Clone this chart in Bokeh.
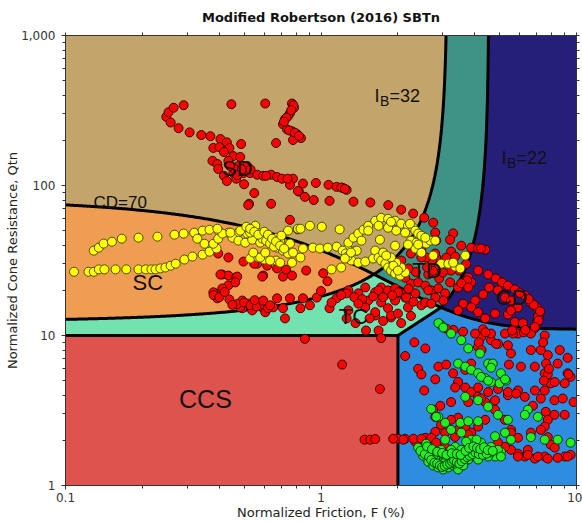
import numpy as np
from bokeh.plotting import figure
from bokeh.models import Range1d, LogAxis, FixedTicker, NumeralTickFormatter
from bokeh.embed import file_html
from bokeh.resources import INLINE
from bokeh.core.properties import value

# ---------------------------------------------------------------------------
# Chart limits and zone-boundary parameters (Robertson 2016 SBTn chart)
# ---------------------------------------------------------------------------
F_MIN, F_MAX = 0.1, 10.0          # normalized friction ratio, %
Q_MIN, Q_MAX = 1.0, 1000.0        # normalized cone resistance Qtn
CD_LEVEL = 70                     # CD = 70 contour
IB_LEVELS = [32, 22]              # IB = 32 and IB = 22 contours
CCS_F = 2.0                       # CCS / CC split
CCS_Q = 10.0                      # CCS / TC split

X_MAJOR = [0.1, 1, 10]
Y_MAJOR = [1, 10, 100, 1000]

# ---------------------------------------------------------------------------
# CPT data (F %, Qtn)
# ---------------------------------------------------------------------------
red_upper = [
    (0.248, 287), (0.253, 308), (0.265, 330), (0.290, 343), (0.258, 263), (0.277, 241),
    (0.306, 226), (0.340, 217), (0.369, 213), (0.404, 204), (0.428, 194), (0.379, 178),
    (0.400, 180), (0.438, 178), (0.417, 167), (0.487, 189), (0.446, 348), (0.605, 352),
    (0.667, 192), (0.770, 352), (0.784, 330), (0.756, 303), (0.743, 290), (0.723, 277),
    (0.710, 256), (0.736, 237), (0.770, 230), (0.805, 220), (0.835, 207), (0.777, 201),
    (0.780, 342), (0.765, 318), (0.733, 283), (0.716, 266), (0.750, 233), (0.790, 225),
    (0.820, 214), (0.376, 146), (0.393, 139), (0.454, 157), (0.483, 155), (0.514, 135),
    (0.497, 121), (0.454, 121), (0.417, 116), (0.528, 121), (0.563, 118), (0.594, 116),
    (0.638, 118), (0.673, 114), (0.704, 111), (0.777, 111), (0.850, 103), (0.955, 104),
    (1.07, 101), (1.15, 98), (1.215, 96.5), (1.26, 93.5), (0.500, 102), (0.548, 89),
    (0.756, 101), (0.820, 91), (0.865, 84), (0.937, 80), (1.08, 79), (1.34, 78),
    (1.56, 77), (0.523, 75.5), (0.638, 75.5), (0.434, 146), (0.475, 135), (0.396, 129),
    (0.466, 111), (0.428, 107), (0.519, 74), (1.833, 74), (2.06, 69), (2.295, 65),
    (0.756, 59), (0.812, 51), (0.812, 92), (0.46, 128), (0.49, 128), (0.44, 135),
    (0.53, 128), (0.47, 117), (0.61, 116), (0.74, 111), (1.20, 97), (1.24, 95),
]

red_middle = [
    (2.535, 61), (2.75, 56.5), (2.80, 48.5), (2.825, 43), (3.29, 48), (3.20, 43.5),
    (3.54, 39.7), (3.87, 38.5), (4.12, 38), (4.39, 37.4), (4.23, 38), (3.23, 36.3),
    (2.825, 33), (2.725, 31.6), (3.09, 33), (3.35, 33.6), (3.70, 30), (3.47, 27.1),
    (3.77, 24.4), (3.87, 22.6), (2.25, 22.2), (2.40, 22.6), (2.56, 21.5), (2.70, 20),
    (2.88, 20.6), (3.06, 19.1), (3.20, 22.6), (3.44, 20.9), (3.01, 17.1), (2.80, 17.9),
    (3.23, 27.1), (2.135, 24.3), (1.97, 28.4), (2.06, 31.6), (2.25, 35.2), (2.47, 36.8),
    (2.58, 33.1), (2.80, 35.2), (2.47, 33.1), (2.63, 25.5), (2.90, 24), (3.00, 26.3),
    (2.75, 27), (2.60, 28.5), (2.35, 26.5), (2.20, 28), (2.90, 29.5),
    (4.12, 27.1), (4.51, 25.5), (4.84, 24), (5.11, 22.6), (5.39, 21.5), (5.74, 20.3),
    (6.28, 18.5), (6.63, 16.6), (6.99, 15.4), (7.12, 13.6), (6.99, 12.1), (6.87, 11.2),
    (4.55, 20.9), (4.31, 18.8), (4.01, 17.1), (3.87, 15.4), (3.60, 16.3), (3.44, 14.7),
    (4.12, 14.3), (4.39, 13), (4.80, 14), (5.39, 13.8), (5.74, 12.3), (6.17, 12.1),
    (5.25, 17.9), (4.93, 20), (5.54, 17.1), (5.90, 15.4), (7.06, 13.3), (5.54, 14.7),
    (3.73, 23.3), (3.54, 22.3), (3.77, 20.9), (7.2, 14.5), (7.1, 12.6), (6.8, 16),
    (6.5, 17.5), (6.0, 19.2),
    (0.396, 35.2), (0.434, 33.1), (0.497, 31.1), (0.563, 30.1), (0.594, 25.1), (0.411, 25.5),
    (0.434, 25.1), (0.466, 24.4), (0.434, 21.6), (0.411, 20.6), (0.386, 19.1), (0.393, 17.7),
    (0.438, 17.4), (0.492, 17.1), (0.563, 16.6), (0.492, 15.2), (0.538, 14.7), (0.589, 15.4),
    (0.605, 14.3), (0.379, 19.4), (0.483, 15.4), (0.519, 16.3), (0.65, 15.4), (0.673, 17.7),
    (0.723, 13), (0.756, 17.7), (0.77, 25.1), (0.71, 24.7), (0.589, 24.7), (0.47, 24.7),
    (0.404, 25.5), (0.462, 22.6), (0.673, 28), (0.616, 29.2), (0.73, 27.5), (0.875, 27.1),
    (1.02, 26), (1.06, 23), (0.548, 30.1), (0.47, 16.2), (0.50, 16.6), (0.53, 15.9),
    (0.56, 15.6), (0.60, 16), (0.62, 15.2), (0.45, 16), (0.55, 17.2), (0.38, 18.6),
    (0.40, 18), (0.42, 19.5),
    (1.15, 17.7), (1.28, 20), (1.40, 19.1), (1.49, 20.9), (1.63, 19.4), (1.72, 20.9),
    (1.83, 20), (1.95, 20.6), (2.06, 19.1), (1.53, 17.1), (1.72, 16.6), (1.95, 17.1),
    (2.135, 17.9), (2.34, 19.1), (2.63, 20), (0.963, 17.9), (0.85, 17.7), (0.594, 17.1),
    (0.632, 15.9), (0.71, 15.2), (0.831, 15.2), (0.905, 15.9), (1.08, 15.2), (1.28, 14.7),
    (1.49, 15.4), (1.83, 15.2), (2.19, 15.4), (2.47, 15.9), (1.63, 13.6), (1.88, 13.2),
    (1.10, 16.6), (1.26, 19.1), (1.68, 20), (2.0, 19.4), (2.155, 17.9), (2.56, 16.6),
    (2.70, 16.3), (1.63, 14.3), (1.88, 13.6), (2.06, 12.1), (1.68, 10.8), (1.50, 10.8),
    (1.365, 12.1), (1.26, 13), (1.35, 18), (1.45, 17.5), (1.6, 18.2), (1.75, 18),
    (1.9, 18.5), (2.2, 20.5), (2.3, 16.8), (1.2, 18.6), (1.0, 19.8), (1.4, 16.3),
    (1.55, 13), (1.75, 12.5), (2.0, 14), (2.25, 13.5),
]

red_lower = [
    (0.865, 9.5), (1.72, 9.6), (1.21, 6.4), (1.70, 4.4), (1.48, 2.02), (1.56, 2.02),
    (1.63, 2.04), (2.32, 9.0), (2.56, 8.2), (2.135, 7.3), (2.40, 6.0), (2.47, 5.5),
    (2.535, 4.3), (2.80, 5.1), (2.88, 6.2), (3.09, 6.4), (3.29, 5.6), (3.44, 4.9),
    (3.67, 4.5), (3.87, 4.2), (4.12, 3.9), (4.39, 3.6), (4.80, 3.2), (5.25, 2.74),
    (5.54, 2.35), (3.23, 3.6), (2.93, 3.4), (2.80, 2.87), (3.44, 2.83), (3.77, 3.6),
    (4.23, 3.8), (4.80, 3.7), (5.39, 4.0), (5.90, 4.3), (6.28, 3.9), (6.75, 3.4),
    (7.25, 3.8), (8.2, 3.7), (8.99, 2.96), (8.2, 2.96), (7.58, 3.1), (7.72, 2.74),
    (7.51, 2.47), (7.72, 2.1), (7.93, 1.87), (8.22, 1.79), (8.99, 1.56), (9.48, 1.6),
    (7.51, 1.56), (6.87, 1.51), (6.28, 1.56), (5.90, 1.63), (5.54, 1.73), (5.25, 1.81),
    (4.93, 1.93), (6.45, 1.73), (5.90, 2.08), (5.54, 2.25), (6.63, 2.25), (7.25, 2.35),
    (3.87, 2.25), (4.12, 2.47), (4.39, 2.74), (3.67, 2.47), (3.35, 2.11), (3.06, 2.25),
    (2.80, 2.28), (2.56, 2.08), (2.34, 1.96), (2.135, 2.05), (2.005, 2.05), (1.917, 2.05),
    (2.10, 2.02), (2.30, 2.05), (2.47, 2.05), (2.70, 2.08), (2.825, 1.93), (3.06, 1.81),
    (6.06, 6.2), (6.87, 6.2), (7.72, 7.4), (8.44, 6.5), (9.23, 5.6), (7.51, 5.6),
    (7.93, 4.8), (7.51, 4.3), (8.22, 4.9), (8.99, 4.8), (7.25, 8.0), (8.6, 8.0),
    (6.63, 8.0), (5.54, 7.6), (5.39, 8.6), (4.93, 8.8), (4.63, 9.3), (4.23, 9.75),
    (4.12, 8.4), (4.01, 10.3), (4.63, 10.3), (5.25, 10.3), (5.90, 10.3), (6.63, 10.3),
    (7.51, 10.0), (6.87, 11.4), (9.48, 5.3), (9.74, 3.6), (5.90, 1.56), (6.45, 1.6),
    (7.06, 1.56), (7.72, 1.51), (8.44, 1.53), (9.23, 1.56), (4.84, 8.8), (5.64, 10.3),
    (5.44, 6.4), (3.87, 6.5), (3.67, 5.9), (4.12, 4.5), (4.51, 4.2), (4.93, 4.4),
    (5.39, 4.2), (5.80, 4.1), (6.87, 4.3), (8.83, 3.8), (9.3, 5.5), (7.72, 5.5),
    (9.23, 7.1), (6.22, 10.5), (3.35, 4.5), (3.77, 2.18), (4.23, 1.87), (3.44, 2.35),
    (3.23, 2.74), (2.95, 2.54), (2.75, 3.2), (4.3, 11.0), (4.15, 9.0), (4.25, 8.0),
    (7.4, 9.0), (7.6, 6.5), (7.8, 6.0), (7.45, 5.0), (3.6, 10.6), (3.3, 10.9),
    (3.1, 11.1), (4.4, 10.5), (5.6, 10.8), (6.3, 10.9),
]

yellow = [
    (0.108, 26.6), (0.123, 26.6), (0.129, 26.6), (0.135, 27.6), (0.142, 27.6), (0.157, 27.6),
    (0.173, 27.6), (0.193, 27.6), (0.206, 27.6), (0.217, 27.6), (0.225, 27.6), (0.235, 28),
    (0.246, 28.4), (0.258, 29.2), (0.270, 30.1), (0.292, 32.1), (0.314, 33.6), (0.344, 34.6),
    (0.366, 36.2), (0.390, 38), (0.129, 36.8), (0.135, 38.5), (0.141, 41), (0.152, 42.2),
    (0.166, 44.2), (0.193, 44.9), (0.229, 45.6), (0.267, 47), (0.290, 47.8), (0.319, 48.5),
    (0.344, 50), (0.366, 50.7), (0.400, 49.2), (0.434, 48.5), (0.475, 48.5), (0.514, 47.8),
    (0.563, 48.5), (0.328, 44.2), (0.350, 40.9), (0.379, 40.9), (0.396, 44.2), (0.411, 47.8),
    (0.450, 44.9), (0.475, 42.9), (0.505, 41.6), (0.538, 43.5), (0.578, 41.6), (0.528, 32.6),
    (0.568, 33.1), (0.599, 32.1), (0.393, 51.5), (0.442, 48.5), (0.483, 50), (0.528, 48.5),
    (0.578, 46.3), (0.632, 44.2), (0.692, 42.9), (0.756, 41), (0.667, 31.6), (0.743, 50),
    (0.812, 51.5), (0.553, 53.9), (0.589, 44.2), (0.673, 38.5), (0.71, 36.8), (0.743, 35.2),
    (0.777, 35.7), (0.831, 33.1), (0.770, 30.6), (0.692, 30.6), (0.632, 31.6), (0.578, 33.1),
    (0.543, 35.7), (0.605, 35.7), (0.673, 44.9), (0.831, 51.5), (0.905, 53.9), (1.007, 53.1),
    (1.183, 51), (0.85, 38), (0.929, 38.5), (0.99, 38), (1.063, 38.5), (1.152, 39.1),
    (1.10, 27.6), (1.20, 28.4), (0.51, 53.1), (0.528, 51.5), (0.548, 49.2), (0.568, 47),
    (0.61, 42.9), (0.632, 41), (0.655, 39.1), (0.60, 49.2), (0.62, 47), (0.644, 44.2),
    (0.667, 42.3), (0.692, 39.7), (0.717, 38), (0.70, 46.3),
    (1.27, 38), (1.28, 41.6), (1.34, 44.9), (1.40, 47.8), (1.466, 50.7), (1.53, 53.9),
    (1.63, 58.2), (1.72, 60.9), (1.83, 60), (1.95, 58.2), (2.06, 55.6), (2.19, 53.9),
    (2.295, 52.3), (2.135, 48.5), (1.97, 50), (1.83, 52.3), (1.68, 53.9), (1.53, 50),
    (1.44, 42.9), (1.365, 36.8), (1.28, 33.1), (1.317, 31.6), (1.40, 30.6), (1.49, 31.1),
    (1.60, 32.6), (1.70, 43.5), (1.95, 39.7), (1.38, 36.8), (1.63, 36.8), (1.68, 33.1),
    (1.72, 31.6), (1.785, 30.1), (1.83, 28.4), (1.88, 27.1), (1.95, 25.9), (2.04, 25.1),
    (2.135, 26.3), (2.06, 28.4), (1.97, 30.6), (1.88, 33.1), (1.75, 35.7), (1.80, 34.1),
    (1.92, 29.2), (2.0, 27.1), (1.215, 36.8), (1.25, 35.2), (1.27, 33.6), (1.31, 35.7),
    (1.24, 32.6), (2.25, 42.9), (2.36, 41.6), (2.47, 41.6), (2.58, 41), (2.68, 42.9),
    (2.34, 38), (2.47, 35.7), (2.19, 40.4), (2.75, 34.1), (1.88, 57.3), (2.23, 55.6),
    (2.34, 50), (2.40, 47.8), (2.47, 46.3), (2.56, 44.9), (2.40, 40.4), (2.80, 42.9),
    (2.955, 30.1), (3.15, 30.1), (3.35, 28.8), (3.51, 28), (3.29, 30.6), (3.67, 34.1),
]

green = [
    (2.955, 11.7), (3.23, 10.3), (3.54, 9.3), (3.77, 8.2), (4.19, 7.6), (3.44, 6.5),
    (3.67, 6.2), (3.87, 5.9), (4.12, 5.6), (4.39, 5.2), (4.63, 4.9), (5.0, 4.8),
    (5.30, 5.0), (4.51, 6.5), (5.06, 5.6), (3.67, 3.9), (4.12, 3.7), (4.51, 3.35),
    (4.93, 2.96), (5.39, 2.74), (6.45, 3.2), (7.06, 2.87), (2.70, 3.24), (2.88, 2.87),
    (3.06, 2.62), (3.23, 2.35), (3.54, 2.25), (3.87, 2.02), (4.23, 1.93), (4.63, 1.81),
    (5.06, 1.68), (3.06, 2.02), (3.35, 1.81), (3.67, 1.66), (4.01, 1.56), (4.39, 1.66),
    (4.80, 1.56), (6.63, 2.1), (9.48, 1.93), (2.825, 2.87), (3.51, 2.62), (3.77, 2.68),
    (4.12, 2.68), (3.70, 1.96), (4.06, 2.02), (4.80, 2.13), (5.25, 2.25), (5.54, 2.02),
    (4.93, 1.73), (4.51, 1.56), (4.12, 1.49), (3.77, 1.49), (3.44, 1.49), (3.15, 1.44),
    (2.88, 1.53), (2.70, 1.66), (2.56, 1.73), (2.95, 1.73), (3.23, 1.73), (3.54, 1.73),
    (3.87, 1.66), (4.23, 1.68), (4.63, 1.66), (5.06, 1.56), (7.51, 2.02), (8.44, 2.02),
    (6.28, 2.96), (2.63, 1.44), (2.75, 1.36), (2.88, 1.32), (3.01, 1.28), (3.15, 1.32),
    (3.29, 1.36), (3.44, 1.28), (3.60, 1.36), (2.80, 1.49), (3.06, 1.44), (3.35, 1.40),
    (2.51, 1.58), (2.63, 1.68), (2.75, 1.58), (3.01, 1.61), (3.29, 1.56), (3.60, 1.53),
    (2.40, 1.79), (2.58, 1.90), (4.7, 6.5), (4.63, 6.1), (5.25, 5.1), (4.23, 5.3),
    (4.51, 5.0), (2.88, 12.1), (3.01, 11.3),
    (2.45, 1.70), (2.55, 1.62), (2.65, 1.55), (2.70, 1.48), (2.78, 1.42), (2.85, 1.40),
    (2.92, 1.36), (2.98, 1.33), (3.05, 1.35), (3.12, 1.38), (3.20, 1.40), (3.26, 1.44),
    (3.32, 1.47), (3.40, 1.43), (3.48, 1.40), (3.55, 1.45), (3.65, 1.50), (3.72, 1.55),
    (3.82, 1.58), (3.92, 1.62), (4.02, 1.66), (4.15, 1.62), (4.30, 1.60), (4.45, 1.63),
    (2.60, 1.82), (2.72, 1.75), (2.85, 1.68), (2.98, 1.65), (3.10, 1.60), (3.25, 1.64),
    (3.40, 1.62), (3.52, 1.60), (3.68, 1.70), (3.80, 1.78), (3.95, 1.82), (4.08, 1.78),
    (4.20, 1.75), (4.35, 1.80), (4.50, 1.72), (4.70, 1.70),
]

# Zone names and where they are written
zone_names = ["SD", "SC", "TC", "TD", "CD"]
zone_F = [0.47, 0.21, 1.34, 2.6, 5.57]
zone_Q = [129, 22.7, 13.3, 27.1, 17.8]
ccs_name, ccs_F, ccs_Q = "CCS", 0.353, 3.78

ZONE_COLORS = {
    "SD": "#C3A46A", "SC": "#EF9D52", "TC": "#72E2B1", "TD": "#3F9286",
    "CD": "#261F79", "CC": "#2F8DE0", "CCS": "#DE534D",
}


# ---------------------------------------------------------------------------
# Boundary curves
# ---------------------------------------------------------------------------
def cd_q(f):
    return 11 + CD_LEVEL / (1 + 0.06 * f) ** 17


def ib_q(f, ib):
    return (70 * ib - 1000) / (100 - ib * f)


def ib_f(q, ib):
    return (100 - (70 * ib - 1000) / q) / ib


def crossing(ib, lo, hi):
    for _ in range(80):
        mid = 0.5 * (lo + hi)
        if ib_q(mid, ib) - cd_q(mid) < 0:
            lo = mid
        else:
            hi = mid
    return 0.5 * (lo + hi)


def lgs(a, b, n=240):
    return np.logspace(np.log10(a), np.log10(b), n)


IB_HI, IB_LO = IB_LEVELS
fA = crossing(IB_HI, 0.5, 3.0)
qA = cd_q(fA)
fB = crossing(IB_LO, 2.1, 4.0)
qB = cd_q(fB)

f_left = lgs(F_MIN, fA)
f_mid = lgs(fA, fB)
f_right = lgs(fB, F_MAX)
cd_left = list(zip(f_left, cd_q(f_left)))
cd_mid = list(zip(f_mid, cd_q(f_mid)))
cd_right = list(zip(f_right, cd_q(f_right)))
q_up_a = lgs(qA, Q_MAX)
q_up_b = lgs(qB, Q_MAX)
ib_hi_low = list(zip(f_left, ib_q(f_left, IB_HI)))
ib_hi_up = list(zip(ib_f(q_up_a, IB_HI), q_up_a))
ib_lo_up = list(zip(ib_f(q_up_b, IB_LO), q_up_b))

zones = {
    "SD": cd_left + ib_hi_up + [(F_MIN, Q_MAX)],
    "SC": ib_hi_low + cd_left[::-1],
    "TC": [(F_MIN, CCS_Q), (CCS_F, CCS_Q), (fB, qB)] + cd_mid[::-1] + ib_hi_low[::-1],
    "TD": ib_hi_up + ib_lo_up[::-1] + cd_mid[::-1],
    "CD": ib_lo_up + [(F_MAX, Q_MAX), (F_MAX, cd_q(F_MAX))] + cd_right[::-1],
    "CC": [(CCS_F, Q_MIN), (F_MAX, Q_MIN), (F_MAX, cd_q(F_MAX))] + cd_right[::-1] + [(CCS_F, CCS_Q)],
    "CCS": [(F_MIN, Q_MIN), (CCS_F, Q_MIN), (CCS_F, CCS_Q), (F_MIN, CCS_Q)],
}

boundaries = [
    cd_left + cd_mid + cd_right,
    ib_hi_low + ib_hi_up,
    ib_lo_up,
    [(F_MIN, CCS_Q), (CCS_F, CCS_Q), (fB, qB)],
    [(CCS_F, Q_MIN), (CCS_F, CCS_Q)],
]

# ---------------------------------------------------------------------------
# Figure
# ---------------------------------------------------------------------------
p = figure(width=582, height=522, x_axis_type="log", y_axis_type="log",
           x_range=Range1d(F_MIN, F_MAX), y_range=Range1d(Q_MIN, Q_MAX),
           output_backend="svg", toolbar_location=None,
           min_border_left=65, min_border_right=6, min_border_top=34, min_border_bottom=36,
           title="Modified Robertson (2016) SBTn")
p.background_fill_color = "white"
p.border_fill_color = "white"
p.outline_line_color = "#333333"
p.grid.visible = False

p.title.text_font = "DejaVu Sans"
p.title.text_font_size = "13px"
p.title.text_font_style = "bold"
p.title.text_color = "#111111"
p.title.align = "center"
p.title.standoff = 15

x_minor = [k * d for d in (0.1, 1) for k in range(2, 10)]
y_minor = [k * d for d in (1, 10, 100) for k in range(2, 10)]


def style_axis(ax, major, minor, show_labels):
    ax.ticker = FixedTicker(ticks=major, minor_ticks=minor)
    ax.axis_line_color = "#333333"
    ax.major_tick_line_color = "#333333"
    ax.minor_tick_line_color = "#333333"
    ax.major_tick_in = 0
    ax.minor_tick_in = 0
    ax.major_tick_out = 4 if show_labels else 3
    ax.minor_tick_out = 3
    if show_labels:
        ax.major_label_text_font = "DejaVu Sans"
        ax.major_label_text_font_size = "12px"
        ax.major_label_text_color = "#333333"
        ax.axis_label_text_font = "DejaVu Sans"
        ax.axis_label_text_font_size = "13px"
        ax.axis_label_text_font_style = "normal"
        ax.axis_label_text_color = "#222222"
    else:
        ax.major_label_text_font_size = "1px"
        ax.major_label_text_alpha = 0
        ax.major_label_standoff = 0


xa = p.xaxis[0]
ya = p.yaxis[0]
style_axis(xa, X_MAJOR, x_minor, True)
style_axis(ya, Y_MAJOR, y_minor, True)
xa.formatter = NumeralTickFormatter(format="0.[0]")
ya.formatter = NumeralTickFormatter(format="0,0")
xa.axis_label = "Normalized Friction, F (%)"
ya.axis_label = "Normalized Cone Resistance, Qtn"
xa.major_label_standoff = 3
xa.axis_label_standoff = 0
ya.major_label_standoff = 6
ya.axis_label_standoff = -2

top_ax = LogAxis()
right_ax = LogAxis()
style_axis(top_ax, X_MAJOR, x_minor, False)
style_axis(right_ax, Y_MAJOR, y_minor, False)
p.add_layout(top_ax, "above")
p.add_layout(right_ax, "right")

# Zone fills
names = list(zones.keys())
p.patches(xs=[[pt[0] for pt in zones[n]] for n in names],
          ys=[[pt[1] for pt in zones[n]] for n in names],
          fill_color=[ZONE_COLORS[n] for n in names], line_color=None)

# Zone boundaries
p.multi_line(xs=[[pt[0] for pt in b] for b in boundaries],
             ys=[[pt[1] for pt in b] for b in boundaries],
             line_color="black", line_width=3)


def split(points):
    return [a for a, _ in points], [b for _, b in points]


rf, rq = split(red_upper + red_middle + red_lower)
yf, yq = split(yellow)
gf, gq = split(green)

p.scatter(rf, rq, marker="circle", size=9, fill_color="#FF0000",
          line_color="#2A0000", line_alpha=0.9, line_width=1)
p.scatter(yf, yq, marker="circle", size=9, fill_color="#FFFF00",
          line_color="#404000", line_alpha=0.9, line_width=1)
p.scatter(gf, gq, marker="circle", size=9, fill_color="#22EE22",
          line_color="#002A00", line_alpha=0.9, line_width=1)

# Zone names, written over the data
p.text(x=zone_F, y=zone_Q, text=zone_names, text_align="center", text_baseline="middle",
       text_font=value("Liberation Sans"), text_font_size="22px", text_color="#111111")
p.text(x=[ccs_F], y=[ccs_Q], text=[ccs_name], text_align="center", text_baseline="middle",
       text_font=value("Liberation Sans"), text_font_size="25px", text_color="#111111")

# Contour labels
p.text(x=[0.1287], y=[77], text=[f"CD={CD_LEVEL}"], text_align="left",
       text_baseline="alphabetic", text_font=value("Liberation Sans"),
       text_font_size="17px", text_color="#111111")
ib_anchor_F = [1.62, 5.09]
ib_anchor_Q = [393, 152.5]
for ib, fx, qy in zip(IB_LEVELS, ib_anchor_F, ib_anchor_Q):
    p.text(x=[fx, fx, fx], y=[qy, qy, qy], text=["I", "B", f"={ib}"],
           x_offset=[0, 5.5, 15], y_offset=[0, 5, 0],
           text_font_size=["18px", "14px", "18px"],
           text_align="left", text_baseline="alphabetic",
           text_font=value("Liberation Sans"), text_color="#111111")

open("out.html", "w").write(file_html(p, INLINE))
